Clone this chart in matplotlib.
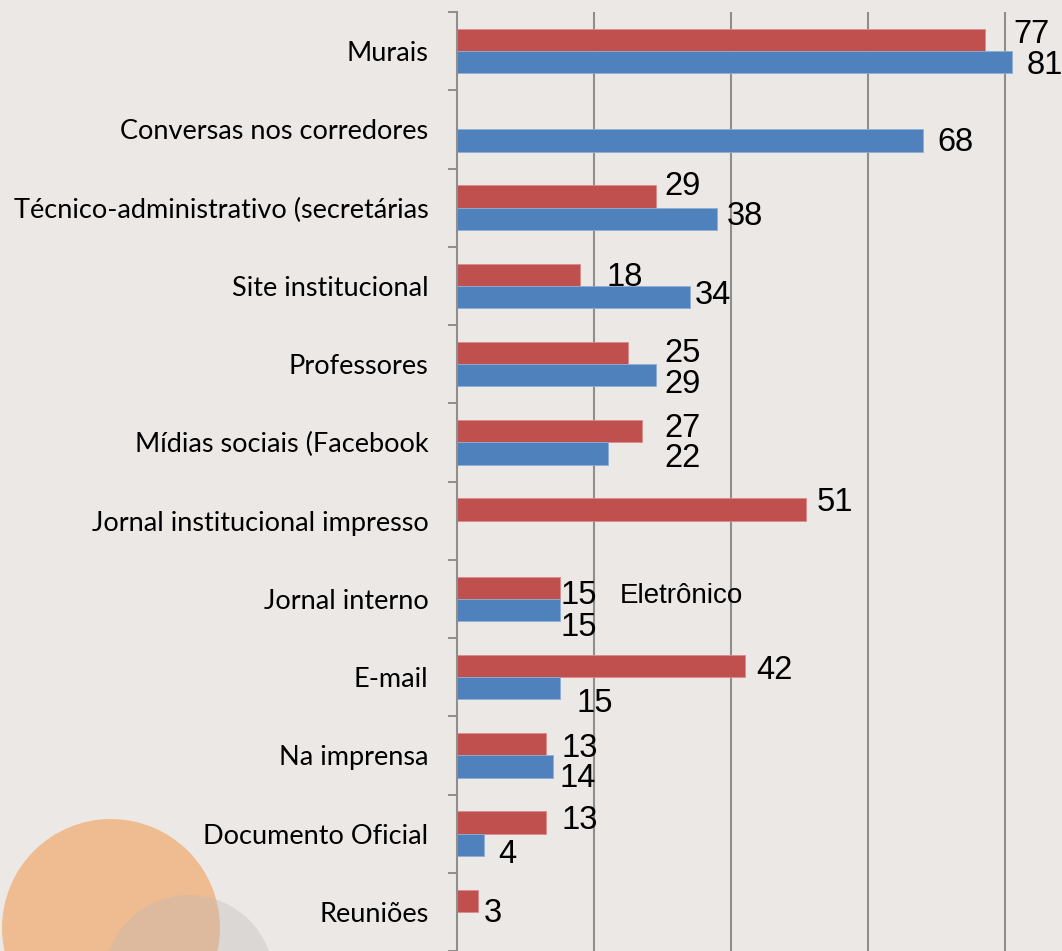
import numpy as np
import matplotlib
matplotlib.use('Agg')
import matplotlib.pyplot as plt
from matplotlib.patches import Circle

categories = ["Murais", "Conversas nos corredores", "Técnico-administrativo (secretárias",
              "Site institucional", "Professores", "Mídias sociais (Facebook",
              "Jornal institucional impresso", "Jornal interno", "E-mail", "Na imprensa",
              "Documento Oficial", "Reuniões"]
red_values = [77, None, 29, 18, 25, 27, 51, 15, 42, 13, 13, 3]
blue_values = [81, 68, 38, 34, 29, 22, None, 15, 15, 14, 4, None]
extra_text = "Eletrônico"
x_max = 88.3
grid_values = [20, 40, 60, 80]

# label offsets in pixels (dx to the right of bar end, dy downward from bar centre)
red_offsets = [(29, -8.5), (0, 0), (9, -13), (26, -1), (36, -3), (22, -6), (10, -10),
               (1, 4.5), (11, 1.5), (15, 1), (15, -5), (6, 9)]
blue_offsets = [(15, 0), (14, -2), (9, -5.5), (5, -5.5), (9, 6), (57, 1), (0, 0),
                (1, 14), (17, 11.5), (7, 8), (14, 6.5), (0, 0)]

BG = '#ECE8E6'
RED = '#C0504D'
BLUE = '#4F81BD'
GRID = '#8E8E8E'

W, H = 1062, 951
fig = plt.figure(figsize=(W / 100, H / 100), dpi=100, facecolor=BG)
ax = fig.add_axes([457 / W, 0, (W - 457) / W, (H - 12) / H])
ax.set_facecolor(BG)

n = len(categories)
pos = np.arange(n)
bh = 0.2857
red = np.array([np.nan if v is None else v for v in red_values], dtype=float)
blue = np.array([np.nan if v is None else v for v in blue_values], dtype=float)

rm = ~np.isnan(red)
bm = ~np.isnan(blue)
ax.barh(pos[rm] - bh / 2, red[rm], height=bh, color=RED, edgecolor='#D88C8A', linewidth=0.6, zorder=3)
ax.barh(pos[bm] + bh / 2, blue[bm], height=bh, color=BLUE, edgecolor='#8FAED6', linewidth=0.6, zorder=3)

num_font = dict(family='Liberation Sans', size=23.5, color='black')
for i in range(n):
    if rm[i]:
        dx, dy = red_offsets[i]
        ax.annotate(f"{int(red[i])}", xy=(red[i], pos[i] - bh / 2), xytext=(dx, -dy),
                    textcoords='offset pixels', ha='left', va='center_baseline', zorder=5, **num_font)
    if bm[i]:
        dx, dy = blue_offsets[i]
        ax.annotate(f"{int(blue[i])}", xy=(blue[i], pos[i] + bh / 2), xytext=(dx, -dy),
                    textcoords='offset pixels', ha='left', va='center_baseline', zorder=5, **num_font)

fig.text(620 / W, 1 - 593 / H, extra_text, ha='left', va='center_baseline',
         family='Liberation Sans', size=20, color='black')

ax.set_xlim(0, x_max)
ax.set_ylim(n - 0.5, -0.5)
for g in grid_values:
    ax.axvline(g, color=GRID, linewidth=1.5, zorder=1)

ax.set_xticks([])
ax.set_yticks(np.arange(n + 1) - 0.5)
ax.set_yticklabels([])
ax.set_yticks(pos, minor=True)
ax.set_yticklabels(categories, minor=True, family='Lato', fontsize=19.5, color='black')
ax.tick_params(axis='y', which='major', length=6.8, width=1.4, color=GRID, direction='out')
ax.tick_params(axis='y', which='minor', length=0, pad=20.5)

for s in ['top', 'right', 'bottom']:
    ax.spines[s].set_visible(False)
ax.spines['left'].set_color(GRID)
ax.spines['left'].set_linewidth(1.5)
ax.spines['left'].set_zorder(4)

# decorative circles (in pixel/inch coordinates)
c1 = Circle((111 / 100, (H - 928) / 100), 1.09, transform=fig.dpi_scale_trans,
            facecolor='#EFBC92', edgecolor='none', zorder=-5)
c2 = Circle((189 / 100, (H - 980) / 100), 0.85, transform=fig.dpi_scale_trans,
            facecolor=(189 / 255, 185 / 255, 180 / 255), alpha=0.34, edgecolor='none', zorder=-4)
fig.patches.extend([c1, c2])

fig.savefig('out.png', dpi=100, facecolor=BG)
